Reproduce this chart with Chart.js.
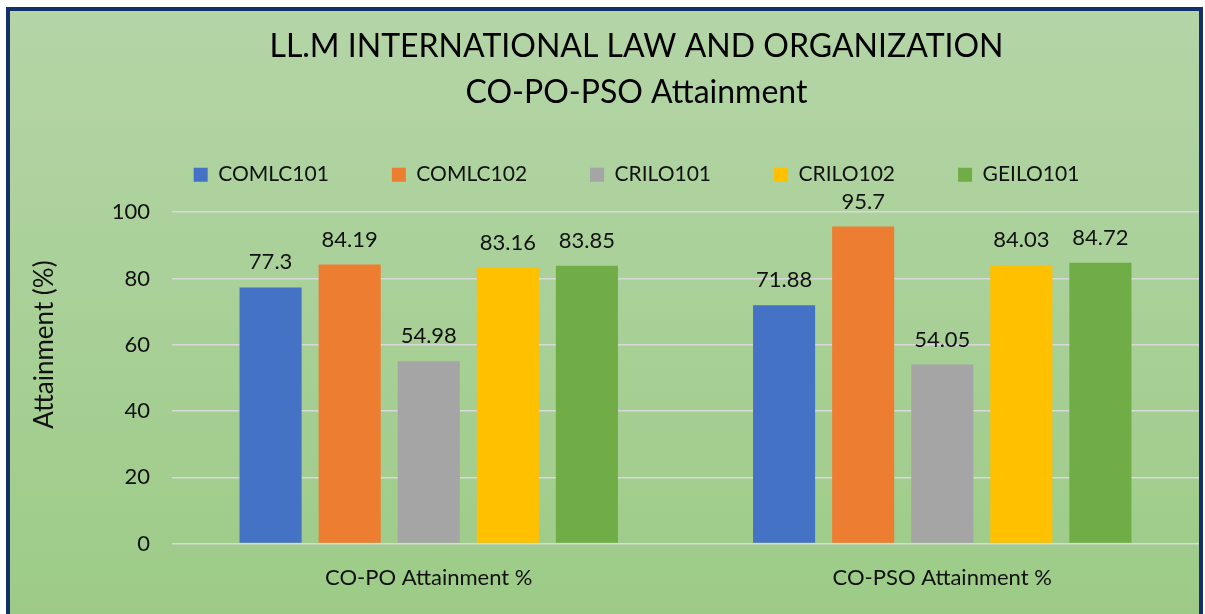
<!DOCTYPE html>
<html>
<head>
<meta charset="utf-8">
<script src="https://cdn.jsdelivr.net/npm/chart.js@4"></script>
<style>
  body {
    margin: 0;
    background: #fff;
  }
  .frame {
    position: absolute;
    left: 6px;
    top: 7px;
    width: 1197px;
    height: 630px;
    box-sizing: border-box;
    border: 4px solid #14306b;
    background: linear-gradient(#b4d5a7, #9ccb86);
  }
  #chart {
    display: block;
  }
</style>
</head>
<body>
<div class="frame">
  <canvas id="chart" width="1189" height="622"></canvas>
</div>
<script>
const categories = ['CO-PO Attainment %', 'CO-PSO Attainment %'];
const seriesNames = ['COMLC101', 'COMLC102', 'CRILO101', 'CRILO102', 'GEILO101'];
const comlc101 = [77.3, 71.88];
const comlc102 = [84.19, 95.7];
const crilo101 = [54.98, 54.05];
const crilo102 = [83.16, 84.03];
const geilo101 = [83.85, 84.72];
const yTicks = [0, 20, 40, 60, 80, 100];

const colors = ['#4472c4', '#ed7d31', '#a5a5a5', '#ffc000', '#70ad47'];
const FONT = 'Lato, "Open Sans", sans-serif';

// values over each bar, like excel data labels
const barLabels = {
  id: 'barLabels',
  afterDatasetsDraw(chart) {
    const ctx = chart.ctx;
    ctx.save();
    ctx.font = '22px ' + FONT;
    ctx.fillStyle = '#111';
    ctx.textAlign = 'center';
    ctx.textBaseline = 'middle';
    chart.data.datasets.forEach((ds, i) => {
      chart.getDatasetMeta(i).data.forEach((bar, j) => {
        ctx.fillText(String(ds.data[j]), bar.x, bar.y - 25);
      });
    });
    ctx.restore();
  },
};

// extra room under the legend
const legendGap = {
  id: 'legendGap',
  beforeInit(chart) {
    const fit = chart.legend.fit;
    chart.legend.fit = function() {
      fit.bind(chart.legend)();
      this.height += 17;
    };
  },
};

new Chart(document.getElementById('chart'), {
  type: 'bar',
  data: {
    labels: categories,
    datasets: [comlc101, comlc102, crilo101, crilo102, geilo101].map((d, i) => ({
      label: seriesNames[i],
      data: d,
      backgroundColor: colors[i],
      borderWidth: 0,
      barPercentage: 0.785,
      categoryPercentage: 0.77,
    })),
  },
  options: {
    responsive: false,
    animation: false,
    layout: {
      padding: { left: 64, right: 0, top: 0, bottom: 29 },
    },
    plugins: {
      title: {
        display: true,
        text: ['LL.M INTERNATIONAL LAW AND ORGANIZATION', 'CO-PO-PSO Attainment'],
        color: '#000',
        font: { family: FONT, size: 32, weight: 'normal', lineHeight: 1.44 },
        padding: { top: 13, bottom: -15 },
      },
      legend: {
        position: 'top',
        labels: {
          boxWidth: 14,
          boxHeight: 14,
          padding: 63,
          color: '#111',
          font: { family: FONT, size: 21 },
        },
      },
      tooltip: { enabled: false },
    },
    scales: {
      x: {
        grid: { display: false },
        border: { display: false },
        ticks: {
          color: '#111',
          font: { family: FONT, size: 22 },
          padding: 13,
        },
      },
      y: {
        min: 0,
        max: 100,
        afterBuildTicks: (scale) => {
          scale.ticks = yTicks.map(v => ({ value: v }));
        },
        afterFit: (scale) => {
          scale.width = 98;
        },
        grid: { color: '#d9d9d9', lineWidth: 1.5, drawTicks: false },
        border: { display: false },
        ticks: {
          color: '#111',
          font: { family: FONT, size: 22 },
          padding: 22,
        },
        title: {
          display: true,
          // leading spaces lift the title a little, as in the original
          text: '          Attainment (%)',
          color: '#111',
          font: { family: FONT, size: 26 },
          padding: { top: -45, bottom: 0 },
        },
      },
    },
  },
  plugins: [barLabels, legendGap],
});
</script>
</body>
</html>
